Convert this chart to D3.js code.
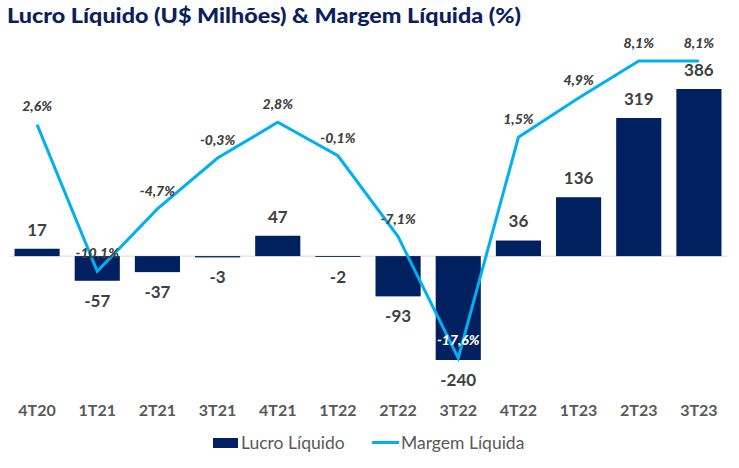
<!DOCTYPE html>
<html><head><meta charset="utf-8">
<script src="https://cdn.jsdelivr.net/npm/d3@7"></script>
<style>body{margin:0;background:#fff}svg{display:block}</style>
</head><body><svg id="c" width="739" height="468"></svg>
<script>
const categories = ["4T20","1T21","2T21","3T21","4T21","1T22","2T22","3T22","4T22","1T23","2T23","3T23"];
const lucro = [17,-57,-37,-3,47,-2,-93,-240,36,136,319,386];
const margem = [2.6,-10.1,-4.7,-0.3,2.8,-0.1,-7.1,-17.6,1.5,4.9,8.1,8.1];
const seriesNames = ["Lucro Líquido","Margem Líquida"];
const title = "Lucro Líquido (U$ Milhões) & Margem Líquida (%)";

const FONT = "Lato, 'Open Sans', sans-serif";
const navy = "#002060", cyan = "#00b0f0", grey = "#404040";
const loc = d3.formatLocale({decimal:",", thousands:".", grouping:[3], currency:["",""], minus:"-"});
const fPct = v => loc.format(".1f")(v) + "%";

const svg = d3.select("#c");
const x = d3.scaleBand().domain(categories).range([7,729]).paddingInner(0.25).paddingOuter(0.125);
const y = d3.scaleLinear().domain([-240,386]).range([360,89]);
const yM = d3.scaleLinear().domain([-17.6,8.1]).range([358,61]);

svg.append("text").attr("x",7).attr("y",23).attr("font-family",FONT).attr("font-weight",900)
  .attr("font-size",20).attr("fill","#0b1f5c").text(title)
  .attr("textLength",514).attr("lengthAdjust","spacingAndGlyphs");

// zero line
svg.append("line").attr("x1",10).attr("x2",727).attr("y1",y(0)).attr("y2",y(0))
  .attr("stroke","#d9d9d9").attr("stroke-width",1);

// bars
svg.selectAll("rect.bar").data(lucro).enter().append("rect").attr("class","bar")
  .attr("x",(d,i)=>x(categories[i])).attr("width",x.bandwidth())
  .attr("y",d=>Math.min(y(d),y(0))).attr("height",d=>Math.abs(y(d)-y(0)))
  .attr("fill",navy);

// line
const line = d3.line().x((d,i)=>x(categories[i])+x.bandwidth()/2).y(d=>yM(d));
svg.append("path").datum(margem).attr("d",line).attr("fill","none")
  .attr("stroke",cyan).attr("stroke-width",3).attr("stroke-linejoin","miter");

// bar labels
svg.selectAll("text.bl").data(lucro).enter().append("text").attr("class","bl")
  .attr("x",(d,i)=>x(categories[i])+x.bandwidth()/2)
  .attr("y",d=> d>=0 ? y(d)-19 : y(d)+20)
  .attr("dy","0.35em").attr("text-anchor","middle")
  .attr("font-family",FONT).attr("font-weight",700).attr("font-size",17).attr("fill",grey)
  .text(d=>d);

// pct labels
svg.selectAll("text.pl").data(margem).enter().append("text").attr("class","pl")
  .attr("x",(d,i)=>x(categories[i])+x.bandwidth()/2)
  .attr("y",d=>yM(d)-18)
  .attr("dy","0.35em").attr("text-anchor","middle")
  .attr("font-family",FONT).attr("font-weight",900).attr("font-style","italic").attr("font-size",14)
  .attr("fill",(d,i)=> i===7 ? "#ffffff" : grey)
  .text(d=>fPct(d));

// x axis labels
svg.selectAll("text.xl").data(categories).enter().append("text").attr("class","xl")
  .attr("x",d=>x(d)+x.bandwidth()/2).attr("y",410).attr("dy","0.35em").attr("text-anchor","middle")
  .attr("font-family",FONT).attr("font-weight",700).attr("font-size",16).attr("fill","#595959")
  .text(d=>d);

// legend
const lg = svg.append("g");
lg.append("rect").attr("x",213).attr("y",438).attr("width",25).attr("height",10).attr("fill",navy);
lg.append("text").attr("x",241).attr("y",443).attr("dy","0.35em").attr("font-family",FONT)
  .attr("font-size",17.5).attr("fill","#595959").text(seriesNames[0]);
lg.append("line").attr("x1",372).attr("x2",399).attr("y1",442.5).attr("y2",442.5).attr("stroke",cyan).attr("stroke-width",3);
lg.append("text").attr("x",401).attr("y",443).attr("dy","0.35em").attr("font-family",FONT)
  .attr("font-size",17.5).attr("fill","#595959").text(seriesNames[1]);
</script></body></html>
